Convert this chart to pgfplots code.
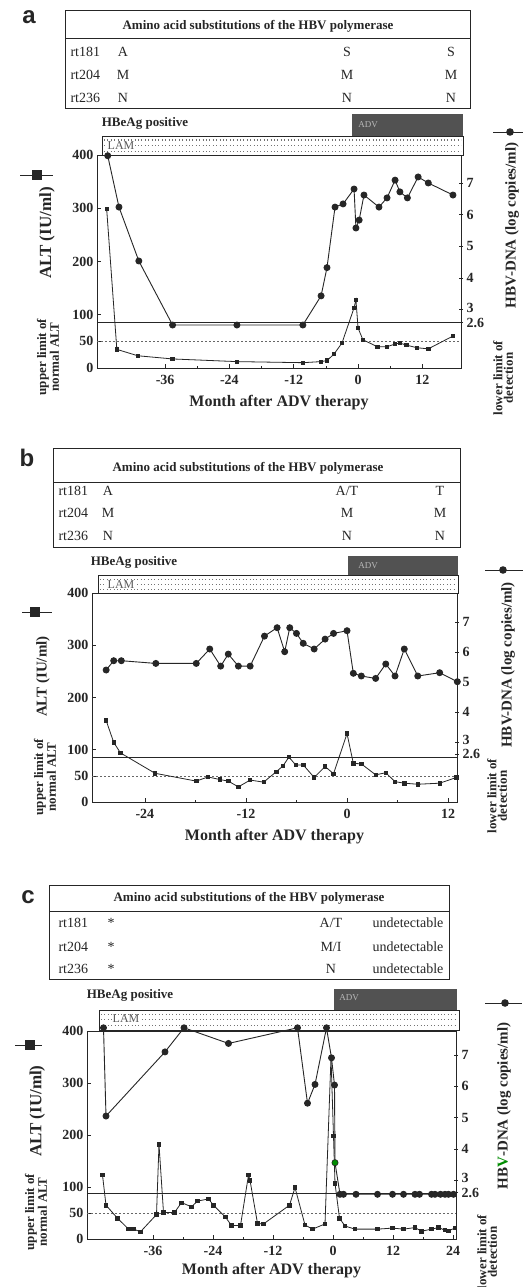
\documentclass[border=0pt]{standalone}
\usepackage{pgfplots}
\pgfplotsset{compat=1.18}
\usepackage{fontspec}
\setmainfont{Liberation Serif}
\newfontfamily\sansf{Liberation Sans}
\newcommand{\fs}[1]{\fontsize{#1}{#1}\selectfont}
\definecolor{ink}{gray}{0.15}
\definecolor{advfill}{gray}{0.32}
\pgfplotsset{
  altp/.style={ink, line width=0.8pt, mark=square*, mark size=1.7pt, mark options={solid}},
  hbvp/.style={ink, line width=0.9pt, mark=*, mark size=3pt, mark options={solid}},
  base/.style={anchor=south west, scale only axis, clip=false,
    axis line style={ink,line width=0.8pt}, tick style={ink, line width=0.6pt},
    ticklabel style={font=\bfseries\fs{14}, text=ink}, label style={text=ink}},
  leftax/.style={base, xtick pos=bottom, ytick pos=left, minor x tick num=1,
    tick align=inside, major tick length=4pt, minor tick length=2.5pt,
    ytick={0,50,100,200,300,400}, yticklabels={0,50,100,200,300,400},
    xticklabel style={yshift=-4pt},
    xlabel={Month after ADV therapy}, xlabel style={font=\bfseries\fs{16}, yshift=-3pt},
    ylabel={ALT (IU/ml)}},
  rightax/.style={base, axis x line=none, axis y line*=right,
    ytick={3,4,5,6,7}, yticklabels={\raisebox{4pt}{3},4,5,6,7},
    extra y ticks={2.6}, extra y tick labels={2.6},
    tick align=center, major tick length=4pt},
}
\tikzset{
  tit/.style={font=\bfseries\fs{13}, text=ink},
  row/.style={font=\fs{14}, text=ink},
  lab/.style={font=\bfseries\fs{13}, text=ink},
  sidel/.style={rotate=90, align=center, font=\bfseries\fontsize{13}{10.5}\selectfont, text=ink},
  plab/.style={font=\sansf\bfseries\fs{24}, text=ink},
  dotrow/.style={black!55, line width=1pt, dash pattern=on 1pt off 2.4pt},
}
\begin{document}
\begin{tikzpicture}
\path[use as bounding box] (0,0) rectangle (525pt,-1287pt);
\fill[white] (0,0) rectangle (525pt,-1287pt);

% ================= PANEL A =================
\node[plab] at (29pt,-17pt) {a};
\draw[ink, line width=0.6pt] (65pt,-10pt) rectangle (470pt,-108pt);
\draw[ink, line width=0.6pt] (65pt,-38pt) -- (470pt,-38pt);
\node[tit] at (258pt,-26pt) {Amino acid substitutions of the HBV polymerase};
\node[row, anchor=west] at (67pt,-52pt) {rt181};
\node[row, anchor=west] at (67pt,-75pt) {rt204};
\node[row, anchor=west] at (67pt,-98pt) {rt236};
\node[row] at (123pt,-52pt) {A};  \node[row] at (347pt,-52pt) {S};  \node[row] at (451pt,-52pt) {S};
\node[row] at (123pt,-75pt) {M};  \node[row] at (347pt,-75pt) {M};  \node[row] at (451pt,-75pt) {M};
\node[row] at (123pt,-98pt) {N};  \node[row] at (347pt,-98pt) {N};  \node[row] at (451pt,-98pt) {N};
\node[lab] at (145pt,-123pt) {HBeAg positive};
\fill[advfill] (352pt,-114pt) rectangle (463pt,-136pt);
\node[font=\fs{9}, text=gray!55] at (368pt,-125pt) {ADV};
\draw[ink, line width=0.6pt, fill=white] (102pt,-136pt) rectangle (463pt,-155pt);
\foreach \yy in {140,145.5,151} \draw[dotrow] (104pt,-\yy pt) -- (461pt,-\yy pt);
\node[font=\fs{12}, text=black!65, fill=white, inner sep=0.5pt] at (121pt,-146pt) {LAM};
\draw[ink, line width=0.8pt] (20pt,-175pt) -- (53pt,-175pt);
\fill[ink] (32pt,-170pt) rectangle (42pt,-180pt);
\draw[ink, line width=0.8pt] (493pt,-132pt) -- (523pt,-132pt);
\fill[ink] (510pt,-132pt) circle (3.8pt);
\node[sidel] at (48pt,-357pt) {upper limit of\\normal ALT};
\node[sidel] at (503pt,-378pt) {lower limit of\\detection};

\begin{axis}[leftax, at={(97pt,-368pt)}, width=364pt, height=213pt,
  xmin=-48.7, xmax=19.2, ymin=0, ymax=400,
  xtick={-36,-24,-12,0,12}, xticklabels={-36,-24,-12,0,12},
  ylabel style={font=\bfseries\fs{17}, at={(rel axis cs:-0.137,0.634)}, anchor=center}]
\addplot[ink, line width=0.6pt, no marks] coordinates {(-48.7,86) (19.2,86)};
\addplot[black!60, line width=0.6pt, dash pattern=on 2pt off 2pt, no marks] coordinates {(-48.7,50) (19.2,50)};
\addplot[altp] coordinates {(-46.9,299) (-45.0,35) (-41.1,23) (-34.6,17) (-22.6,12) (-10.3,10) (-6.9,12) (-5.8,14) (-4.5,26) (-3.0,47) (-0.75,113) (-0.4,128) (0,75) (0.9,53) (3.6,40) (5.4,40) (6.9,45) (7.8,47) (9.0,43) (11.0,38) (13.1,36) (17.7,60)};
\end{axis}
\begin{axis}[rightax, at={(97pt,-368pt)}, width=364pt, height=213pt,
  xmin=-48.7, xmax=19.2, ymin=1.164, ymax=7.883,
  ylabel={HBV-DNA (log copies/ml)},
  ylabel style={font=\bfseries\fs{15}, at={(rel axis cs:1.14,0.67)}, anchor=center}]
\addplot[hbvp] coordinates {(-46.7,7.86) (-44.6,6.24) (-40.9,4.54) (-34.6,2.52) (-22.6,2.52) (-10.3,2.52) (-6.9,3.44) (-5.8,4.33) (-4.3,6.24) (-2.8,6.34) (-0.75,6.81) (-0.4,5.58) (0.2,5.83) (1.1,6.62) (3.9,6.24) (5.4,6.53) (6.9,7.09) (7.8,6.72) (9.2,6.53) (11.2,7.19) (13.1,7.0) (17.7,6.62)};
\end{axis}

% ================= PANEL B =================
\node[plab] at (27pt,-458pt) {b};
\draw[ink, line width=0.6pt] (53pt,-448pt) rectangle (460pt,-547pt);
\draw[ink, line width=0.6pt] (53pt,-482pt) -- (460pt,-482pt);
\node[tit] at (248pt,-468pt) {Amino acid substitutions of the HBV polymerase};
\node[row, anchor=west] at (55pt,-491pt) {rt181};
\node[row, anchor=west] at (55pt,-513pt) {rt204};
\node[row, anchor=west] at (55pt,-536pt) {rt236};
\node[row] at (108pt,-491pt) {A};  \node[row] at (347pt,-491pt) {A/T};  \node[row] at (440pt,-491pt) {T};
\node[row] at (108pt,-513pt) {M};  \node[row] at (347pt,-513pt) {M};    \node[row] at (440pt,-513pt) {M};
\node[row] at (108pt,-536pt) {N};  \node[row] at (347pt,-536pt) {N};    \node[row] at (440pt,-536pt) {N};
\node[lab] at (134pt,-562pt) {HBeAg positive};
\fill[advfill] (348pt,-556pt) rectangle (458pt,-575pt);
\node[font=\fs{9}, text=gray!55] at (368pt,-566pt) {ADV};
\draw[ink, line width=0.6pt, fill=white] (98pt,-575pt) rectangle (458pt,-593pt);
\foreach \yy in {579,584,589} \draw[dotrow] (100pt,-\yy pt) -- (456pt,-\yy pt);
\node[font=\fs{12}, text=black!65, fill=white, inner sep=0.5pt] at (121pt,-585pt) {LAM};
\draw[ink, line width=0.8pt] (22pt,-612pt) -- (52pt,-612pt);
\fill[ink] (30pt,-607pt) rectangle (40pt,-617pt);
\draw[ink, line width=0.8pt] (485pt,-570pt) -- (523pt,-570pt);
\fill[ink] (503pt,-570pt) circle (3.8pt);
\node[sidel] at (45pt,-777pt) {upper limit of\\normal ALT};
\node[sidel] at (497pt,-796pt) {lower limit of\\detection};

\begin{axis}[leftax, at={(92pt,-802pt)}, width=365pt, height=209pt,
  xmin=-30.28, xmax=13.06, ymin=0, ymax=400,
  xtick={-24,-12,0,12}, xticklabels={-24,-12,0,12},
  ylabel style={font=\bfseries\fs{15}, at={(rel axis cs:-0.134,0.6)}, anchor=center}]
\addplot[ink, line width=0.6pt, no marks] coordinates {(-30.28,86) (13.06,86)};
\addplot[black!60, line width=0.6pt, dash pattern=on 2pt off 2pt, no marks] coordinates {(-30.28,50) (13.06,50)};
\addplot[altp] coordinates {(-28.6,156) (-27.7,114) (-26.9,94) (-22.8,55) (-17.9,40) (-16.5,48) (-15.1,43) (-14.1,40) (-12.9,29) (-11.5,42) (-9.9,38) (-8.4,58) (-7.6,69) (-6.9,86) (-6.1,71) (-5.2,71) (-3.9,47) (-2.6,68) (-1.6,54) (0,131) (0.75,74) (1.7,73) (3.4,52) (4.6,56) (5.7,39) (6.8,36) (8.4,34) (11.0,36) (13.0,47)};
\end{axis}
\begin{axis}[rightax, at={(92pt,-802pt)}, width=365pt, height=209pt,
  xmin=-30.28, xmax=13.06, ymin=1.0, ymax=7.967,
  ylabel={HBV-DNA (log copies/ml)},
  ylabel style={font=\bfseries\fs{15}, at={(rel axis cs:1.14,0.656)}, anchor=center}]
\addplot[hbvp] coordinates {(-28.6,5.4) (-27.7,5.71) (-26.8,5.71) (-22.7,5.62) (-17.9,5.62) (-16.3,6.1) (-15.0,5.53) (-14.1,5.93) (-12.9,5.53) (-11.5,5.53) (-9.8,6.53) (-8.3,6.81) (-7.4,6.01) (-6.8,6.81) (-6.0,6.62) (-5.2,6.29) (-3.9,6.1) (-2.6,6.43) (-1.6,6.62) (0,6.71) (0.75,5.29) (1.7,5.2) (3.4,5.12) (4.6,5.6) (5.7,5.2) (6.8,6.1) (8.4,5.2) (11.0,5.31) (13.1,5.01)};
\end{axis}

% ================= PANEL C =================
\node[plab] at (28pt,-897pt) {c};
\draw[ink, line width=0.6pt] (49pt,-885pt) rectangle (449pt,-979pt);
\draw[ink, line width=0.6pt] (49pt,-911pt) -- (449pt,-911pt);
\node[tit] at (249pt,-898pt) {Amino acid substitutions of the HBV polymerase};
\node[row, anchor=west] at (55pt,-923pt) {rt181};
\node[row, anchor=west] at (55pt,-947pt) {rt204};
\node[row, anchor=west] at (55pt,-969pt) {rt236};
\node[row] at (111pt,-923pt) {*};  \node[row] at (331pt,-923pt) {A/T};  \node[row] at (408pt,-923pt) {undetectable};
\node[row] at (111pt,-947pt) {*};  \node[row] at (331pt,-947pt) {M/I};  \node[row] at (408pt,-947pt) {undetectable};
\node[row] at (111pt,-969pt) {*};  \node[row] at (331pt,-969pt) {N};    \node[row] at (408pt,-969pt) {undetectable};
\node[lab] at (130pt,-995pt) {HBeAg positive};
\fill[advfill] (334pt,-989pt) rectangle (457pt,-1010pt);
\node[font=\fs{9}, text=gray!55] at (349pt,-998pt) {ADV};
\draw[ink, line width=0.6pt, fill=white] (99pt,-1010pt) rectangle (459pt,-1030pt);
\foreach \yy in {1014,1019.5,1025} \draw[dotrow] (101pt,-\yy pt) -- (457pt,-\yy pt);
\node[font=\fs{12}, text=black!65, fill=white, inner sep=0.5pt] at (126pt,-1019pt) {LAM};
\draw[ink, line width=0.8pt] (15pt,-1045pt) -- (42pt,-1045pt);
\fill[ink] (25pt,-1040pt) rectangle (35pt,-1050pt);
\draw[ink, line width=0.8pt] (485pt,-1003pt) -- (522pt,-1003pt);
\fill[ink] (505pt,-1003pt) circle (3.8pt);
\node[sidel] at (36pt,-1212pt) {upper limit of\\normal ALT};
\node[sidel] at (487pt,-1252pt) {lower limit of\\detection};

\begin{axis}[leftax, at={(87pt,-1239pt)}, width=369pt, height=208pt,
  xmin=-49.2, xmax=24.6, ymin=0, ymax=400,
  xtick={-36,-24,-12,0,12,24}, xticklabels={-36,-24,-12,0,12,24},
  xlabel style={yshift=3pt},
  ylabel style={font=\bfseries\fs{17}, at={(rel axis cs:-0.135,0.615)}, anchor=center}]
\addplot[ink, line width=0.6pt, no marks] coordinates {(-49.2,88.5) (24.6,88.5)};
\addplot[black!60, line width=0.6pt, dash pattern=on 2pt off 2pt, no marks] coordinates {(-49.2,50) (24.6,50)};
\addplot[altp] coordinates {(-46.1,123) (-45.4,65) (-43.1,40) (-40.9,19) (-39.9,19) (-38.5,14) (-35.3,47) (-34.8,182) (-33.9,51) (-31.7,51) (-30.3,70) (-28.3,62) (-27.1,73) (-24.9,77) (-23.9,65) (-21.5,42) (-20.3,26) (-18.5,26) (-16.9,123) (-16.6,113) (-15.1,30) (-13.9,29) (-8.7,65) (-7.6,99) (-5.6,27) (-4.1,19) (-1.6,29) (-0.4,350) (0.1,198) (0.4,107) (1.3,40) (2.4,25) (4.4,19) (8.9,19) (11.9,21) (14.1,19) (16.4,22) (17.7,15) (19.7,19) (21.1,22) (22.4,17) (23.1,16) (24.4,21)};
\end{axis}
\begin{axis}[rightax, at={(87pt,-1239pt)}, width=369pt, height=208pt,
  xmin=-49.2, xmax=24.6, ymin=1.121, ymax=7.767,
  ylabel={HB\textcolor{green!55!black}{V}-DNA (log copies/ml)},
  ylabel style={font=\bfseries\fs{15}, at={(rel axis cs:1.13,0.64)}, anchor=center}]
\addplot[hbvp] coordinates {(-45.9,7.87) (-45.4,5.05) (-33.6,7.1) (-29.8,7.87) (-20.9,7.37) (-7.1,7.87) (-5.1,5.46) (-3.6,6.06) (-1.3,7.87) (-0.3,6.91) (0.3,6.04) (0.4,3.56) (1.4,2.55) (2.1,2.55) (4.6,2.55) (8.9,2.55) (11.9,2.55) (14.1,2.55) (16.4,2.55) (17.3,2.55) (19.7,2.55) (20.4,2.55) (21.5,2.55) (22.4,2.55) (23.1,2.55) (24.1,2.55)};
\addplot[only marks, mark=*, mark size=2.4pt, green!55!black] coordinates {(0.4,3.56)};
\end{axis}
\end{tikzpicture}
\end{document}
